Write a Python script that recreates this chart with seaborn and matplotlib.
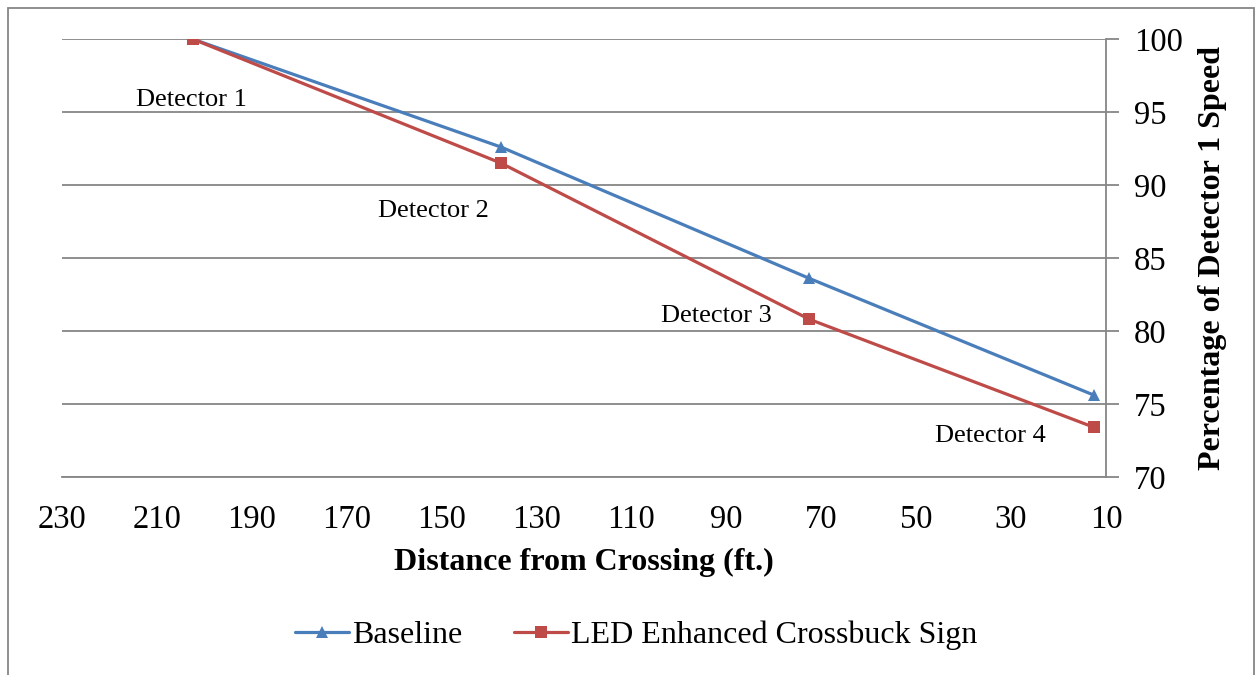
import pandas as pd
import matplotlib.pyplot as plt
import seaborn as sns
from matplotlib.patches import Rectangle

# Data
distance = [202.5, 137.5, 72.5, 12.5]
baseline = [100.0, 92.6, 83.6, 75.6]
led_sign = [100.0, 91.5, 80.8, 73.4]
series_names = ['Baseline', 'LED Enhanced Crossbuck Sign']
detector_labels = ['Detector 1', 'Detector 2', 'Detector 3', 'Detector 4']
label_x = [202.8, 151.8, 92.0, 34.4]
label_y = [95.8, 88.2, 81.0, 72.8]
x_ticks = list(range(230, 9, -20))
y_ticks = [70, 75, 80, 85, 90, 95, 100]

df = pd.DataFrame({
    'Distance': distance * 2,
    'Percent': baseline + led_sign,
    'Series': [series_names[0]] * 4 + [series_names[1]] * 4,
})

sns.set_style('white')
plt.rcParams['font.family'] = ['Liberation Serif', 'DejaVu Serif']
plt.rcParams['text.color'] = 'black'
plt.rcParams['axes.labelcolor'] = 'black'

blue = '#4A7EBB'
red = '#BE4B48'
grid_c = '#868686'

fig = plt.figure(figsize=(12.56, 6.75), dpi=100)
ax = fig.add_axes([62 / 1256, 198 / 675, 1044 / 1256, 438 / 675])

sns.lineplot(data=df, x='Distance', y='Percent', hue='Series', style='Series',
             palette={series_names[0]: blue, series_names[1]: red},
             markers={series_names[0]: '^', series_names[1]: 's'},
             dashes=False, linewidth=2.3, markersize=8.5, markeredgewidth=0,
             legend=False, ax=ax)

ax.set_xlim(230, 10)
ax.set_ylim(70, 100)
ax.set_xticks(x_ticks)
ax.set_yticks(y_ticks)
ax.yaxis.tick_right()
ax.yaxis.set_label_position('right')

for s in ['top', 'left']:
    ax.spines[s].set_visible(False)
for s in ['bottom', 'right']:
    ax.spines[s].set_color(grid_c)
    ax.spines[s].set_linewidth(1.3)

ax.grid(axis='y', color=grid_c, linewidth=1.3)
ax.set_axisbelow(True)
ax.tick_params(axis='both', length=9, width=1.3, color=grid_c,
               labelsize=23.5, labelcolor='black', pad=11)

ax.set_xlabel('Distance from Crossing (ft.)', fontsize=23, fontweight='bold', labelpad=9)
ax.set_ylabel('Percentage of Detector 1 Speed', fontsize=23, fontweight='bold', labelpad=11)

for txt, lx, ly in zip(detector_labels, label_x, label_y):
    ax.text(lx, ly, txt, fontsize=19, ha='center', va='center')

# legend below the plot
handles = [
    plt.Line2D([], [], color=blue, marker='^', markersize=8.5, markeredgewidth=0, linewidth=2.3),
    plt.Line2D([], [], color=red, marker='s', markersize=8.5, markeredgewidth=0, linewidth=2.3),
]
fig.legend(handles, series_names, loc='center', bbox_to_anchor=(636 / 1256, 1 - 635 / 675),
           ncol=2, frameon=False, fontsize=23, handlelength=1.7, handletextpad=0.1,
           columnspacing=1.6)

# outer chart border
fig.patches.append(Rectangle((8 / 1256, -0.02), 1246 / 1256, 1 - 8 / 675 + 0.02,
                             transform=fig.transFigure, fill=False,
                             edgecolor=grid_c, linewidth=1.3))

fig.savefig('out.png', dpi=100)
